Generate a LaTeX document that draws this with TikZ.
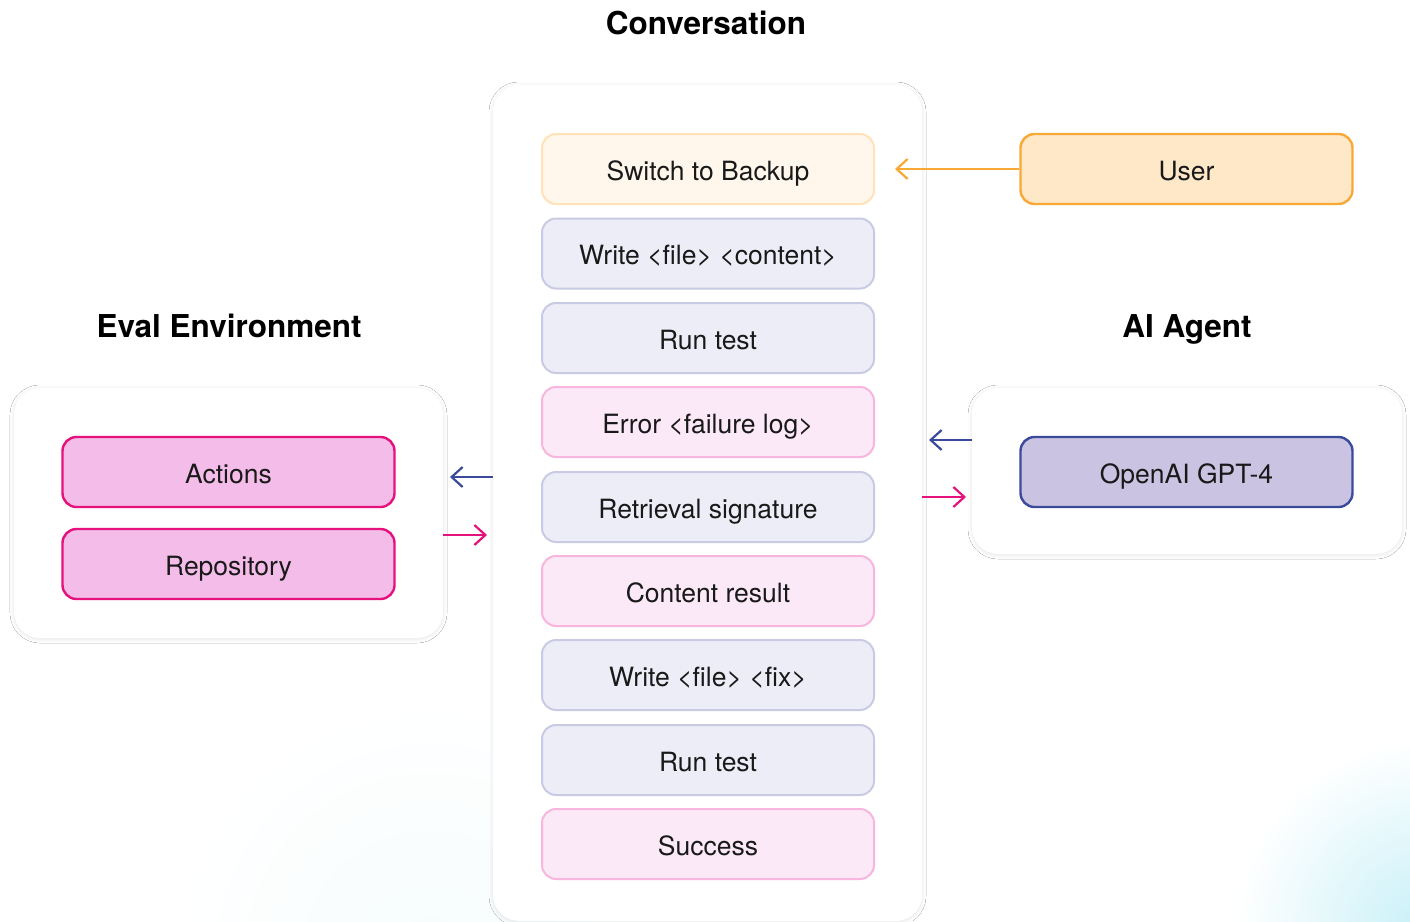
\documentclass[tikz,border=0pt]{standalone}
\usepackage{fontspec}
\setmainfont{TeX Gyre Heros}
\usetikzlibrary{arrows.meta,shadows.blur}
\definecolor{orfill}{HTML}{FFF7EB}
\definecolor{orline}{HTML}{FFE2B8}
\definecolor{lvfill}{HTML}{EDEDF7}
\definecolor{lvline}{HTML}{C8CBE3}
\definecolor{pkfill}{HTML}{FBE9F7}
\definecolor{pkline}{HTML}{F8B6DE}
\definecolor{userfill}{HTML}{FFE8C8}
\definecolor{userline}{HTML}{F8A935}
\definecolor{magfill}{HTML}{F4BDE9}
\definecolor{magline}{HTML}{E5127D}
\definecolor{gptfill}{HTML}{CAC4E2}
\definecolor{gptline}{HTML}{3B4A9A}
\definecolor{glow}{HTML}{C8F0F8}
\definecolor{glowsoft}{HTML}{F6FCFD}
\begin{document}
\begin{tikzpicture}[x=1pt,y=-1pt,
  panel/.style={fill=white, rounded corners=26pt,
    blur shadow={shadow xshift=0pt, shadow yshift=-1pt, shadow blur radius=4pt, shadow opacity=11}},
  item/.style={rounded corners=14pt, line width=2pt, minimum width=332pt, minimum height=70pt,
    inner sep=0pt, text height=22pt, text depth=0pt,
    font=\fontsize{26.5}{31}\selectfont, text=black!90},
  orbox/.style={item, draw=orline, fill=orfill},
  lvbox/.style={item, draw=lvline, fill=lvfill},
  pkbox/.style={item, draw=pkline, fill=pkfill},
  userbox/.style={item, draw=userline, fill=userfill, line width=2.4pt},
  magbox/.style={item, draw=magline, fill=magfill, line width=2.4pt},
  gptbox/.style={item, draw=gptline, fill=gptfill, line width=2.4pt},
  ttl/.style={anchor=base, font=\bfseries\fontsize{31.5}{37}\selectfont, text=black},
  arr/.style={line width=2.2pt, -{Straight Barb[length=11pt, width=20pt, line width=2.2pt]}},
  bluearr/.style={arr, draw=gptline},
  pinkarr/.style={arr, draw=magline},
  orarr/.style={arr, draw=userline}
]
\useasboundingbox (0,0) rectangle (1410,921);
\fill[white] (0,0) rectangle (1410,921);
\begin{scope}
  \clip (0,0) rectangle (1410,921);
  \shade[inner color=glowsoft, outer color=white] (430,960) circle (260);
  \shade[inner color=glow, outer color=white] (1425,930) circle (190);
\end{scope}

% titles
\node[ttl] (tconv) at (706,34) {Conversation};
\node[ttl] (tenv) at (229,337) {Eval Environment};
\node[ttl] (tagent) at (1187,337) {AI Agent};

% panels
\node[panel, minimum width=429pt, minimum height=836pt] (conv) at (707.5,503) {};
\node[panel, minimum width=429pt, minimum height=250pt] (env) at (228.5,513) {};
\node[panel, minimum width=430pt, minimum height=166pt] (agent) at (1187,471) {};

% conversation items
\node[orbox] (sw)  at (708,169) {Switch to Backup};
\node[lvbox] (wr1) at (708,253.5) {Write <file> <content>};
\node[lvbox] (rt1) at (708,338) {Run test};
\node[pkbox] (err) at (708,422) {Error <failure log>};
\node[lvbox] (ret) at (708,507) {Retrieval signature};
\node[pkbox] (cr)  at (708,591) {Content result};
\node[lvbox] (wr2) at (708,675) {Write <file> <fix>};
\node[lvbox] (rt2) at (708,760) {Run test};
\node[pkbox] (suc) at (708,844) {Success};

% side items
\node[userbox] (user) at (1186.5,169) {User};
\node[magbox] (act) at (228.5,472) {Actions};
\node[magbox] (repo) at (228.5,564) {Repository};
\node[gptbox] (gpt) at (1186.5,472) {OpenAI GPT-4};

% connectors
\coordinate (pU) at (895,169);
\coordinate (pA) at (450,477);
\coordinate (pB) at (487,535);
\coordinate (pC) at (929,440);
\coordinate (pD) at (966,497);
\draw[orarr] (user.west) -- (pU);
\draw[bluearr] (conv.west |- pA) -- (pA);
\draw[pinkarr] (env.east |- pB) -- (pB);
\draw[bluearr] (agent.west |- pC) -- (pC);
\draw[pinkarr] (conv.east |- pD) -- (pD);
\end{tikzpicture}
\end{document}
